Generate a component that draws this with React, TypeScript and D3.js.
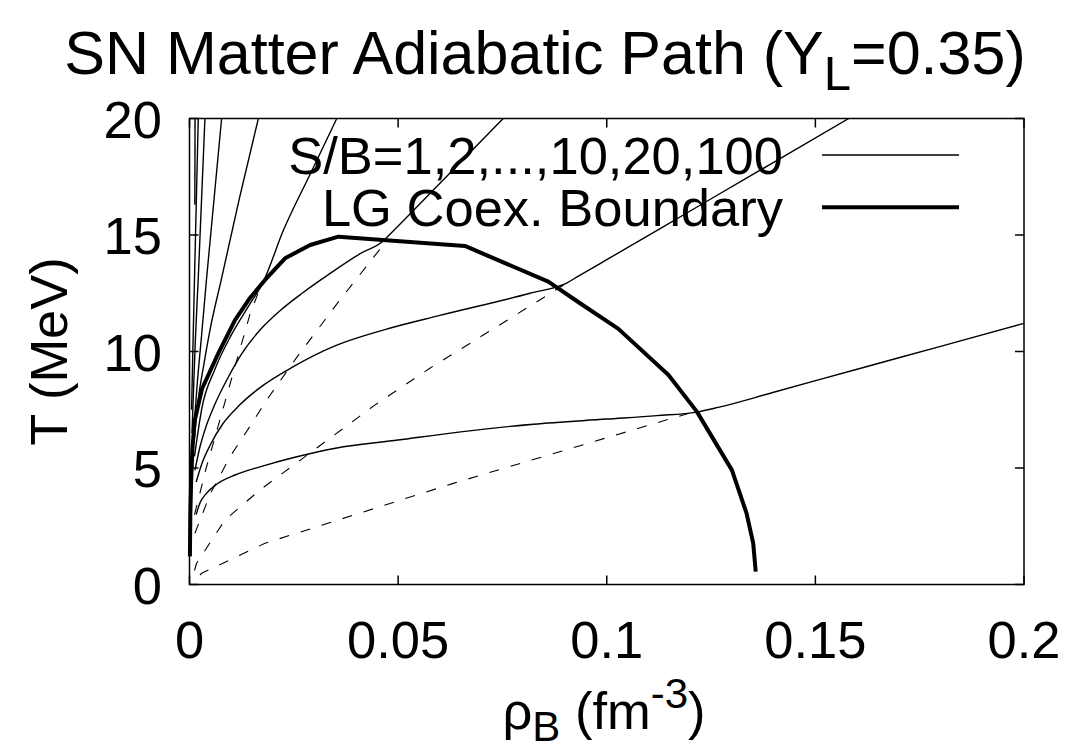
import React from 'react';
import * as d3 from 'd3';

type Pt = [number, number];

// Axis ticks
const xTicks = [0, 0.05, 0.1, 0.15, 0.2];
const xTickLabels = ['0', '0.05', '0.1', '0.15', '0.2'];
const yTicks = [0, 5, 10, 15, 20];
const yTickLabels = ['0', '5', '10', '15', '20'];

// Adiabats (rho_B [fm^-3], T [MeV]) for S/B = 1 ... 9
const adiabatSB1: Pt[] = [
  [0.0016, 3.0], [0.0025, 3.5], [0.004, 3.9], [0.0065, 4.3], [0.0109, 4.7], [0.0169, 5.05],
  [0.025, 5.45], [0.035, 5.85], [0.05, 6.2], [0.065, 6.55], [0.0824, 6.88], [0.1, 7.1],
  [0.112, 7.25], [0.1216, 7.4], [0.1267, 7.6], [0.14, 8.25], [0.16, 9.24], [0.18, 10.22],
  [0.2, 11.21],
];
const adiabatSB2: Pt[] = [
  [0.0016, 4.4], [0.003, 5.2], [0.005, 6.0], [0.008, 6.9], [0.012, 7.7], [0.0169, 8.45],
  [0.0249, 9.35], [0.035, 10.25], [0.047, 10.95], [0.06, 11.55], [0.0816, 12.5], [0.0905, 12.95],
  [0.093, 13.21], [0.1, 13.94], [0.12, 16.03], [0.14, 18.12], [0.158, 20.0],
];
const adiabatSB3: Pt[] = [
  [0.0013, 4.9], [0.0025, 5.9], [0.004, 6.8], [0.006, 7.7], [0.009, 8.8], [0.0125, 9.9],
  [0.0169, 10.92], [0.0217, 11.75], [0.027, 12.5], [0.0329, 13.25], [0.0409, 14.2],
  [0.0465, 14.75], [0.048, 15.02], [0.055, 16.3], [0.065, 18.13], [0.0752, 20.0],
];
const adiabatSB4: Pt[] = [
  [0.0012, 5.5], [0.003, 7.6], [0.006, 9.2], [0.01, 10.7], [0.014, 11.9], [0.0177, 13.0],
  [0.0225, 15.2], [0.029, 17.64], [0.0353, 20.0],
];
const adiabatSB5: Pt[] = [
  [0.0012, 6.3], [0.002, 7.8], [0.0035, 9.5], [0.005, 11.0], [0.0077, 13.15], [0.012, 16.6],
  [0.0165, 20.0],
];
const adiabatSB6: Pt[] = [
  [0.0011, 6.8], [0.0018, 8.5], [0.0028, 10.5], [0.0041, 13.15], [0.0077, 20.0],
];
const adiabatSB7: Pt[] = [
  [0.0006, 6.5], [0.0009, 8.0], [0.0014, 10.5], [0.0021, 13.15], [0.0037, 20.0],
];
const adiabatSB8: Pt[] = [
  [0.0005, 7.5], [0.0008, 10.0], [0.0012, 13.15], [0.0021, 20.0],
];
const adiabatSB9: Pt[] = [
  [0.00128, 16.3], [0.00133, 20.0],
];
const adiabats: Pt[][] = [
  adiabatSB1, adiabatSB2, adiabatSB3, adiabatSB4, adiabatSB5,
  adiabatSB6, adiabatSB7, adiabatSB8, adiabatSB9,
];

// Adiabats through the coexistence region (Maxwell construction)
const mixedSB1: Pt[] = [
  [0.0025, 0.4], [0.0029, 0.48], [0.0181, 1.77], [0.0632, 4.34], [0.1216, 7.45],
];
const mixedSB2: Pt[] = [
  [0.0012, 0.6], [0.0017, 0.91], [0.0085, 2.77], [0.0169, 4.06], [0.0444, 7.7],
  [0.0576, 9.28], [0.0824, 12.04], [0.0905, 12.95],
];
const mixedSB3: Pt[] = [
  [0.0013, 2.2], [0.005, 3.9], [0.0097, 5.48], [0.0149, 6.9], [0.0185, 7.92],
  [0.0257, 9.75], [0.036, 12.2], [0.047, 14.7],
];
const mixedSB4: Pt[] = [
  [0.0012, 3.0], [0.004, 5.0], [0.0075, 7.2], [0.0109, 9.35], [0.0145, 11.6], [0.0175, 13.0],
];
const mixedPaths: Pt[][] = [mixedSB1, mixedSB2, mixedSB3, mixedSB4];

// Liquid-gas coexistence boundary
const coexBoundary: Pt[] = [
  [0.0001, 1.2], [0.0002, 3.0], [0.0004, 4.5], [0.0007, 5.8], [0.0012, 7.0], [0.003, 8.4],
  [0.0069, 9.92], [0.0109, 11.35], [0.0145, 12.3], [0.0181, 13.07], [0.0229, 14.0],
  [0.0289, 14.57], [0.0357, 14.93], [0.066, 14.53], [0.086, 13.0], [0.0936, 12.07],
  [0.1028, 10.97], [0.1148, 8.99], [0.1216, 7.42], [0.13, 4.91], [0.1335, 3.06],
  [0.1351, 1.77], [0.1357, 0.55],
];

const legendLabels = ['S/B=1,2,...,10,20,100', 'LG Coex. Boundary'];

const W = 1065;
const H = 752;
const M = { left: 189.5, right: 1024, top: 118.5, bottom: 584.5 };
const FONT = '"Liberation Sans", Arial, Helvetica, sans-serif';
const TICK = 9;

export default function App() {
  const x = d3.scaleLinear().domain([0, 0.2]).range([M.left, M.right]);
  const y = d3.scaleLinear().domain([0, 20]).range([M.bottom, M.top]);

  const smooth = d3
    .line<Pt>()
    .x((d) => x(d[0]))
    .y((d) => y(d[1]))
    .curve(d3.curveMonotoneX);
  const straight = d3
    .line<Pt>()
    .x((d) => x(d[0]))
    .y((d) => y(d[1]));

  const fs = 52.5;

  return (
    <svg
      width={W}
      height={H}
      viewBox={`0 0 ${W} ${H}`}
      style={{ position: 'absolute', left: 0, top: 0, background: '#fff' }}
      fontFamily={FONT}
    >
      <defs>
        <clipPath id="plotArea">
          <rect x={M.left} y={M.top} width={M.right - M.left} height={M.bottom - M.top} />
        </clipPath>
      </defs>
      <rect x={0} y={0} width={W} height={H} fill="#fff" />

      {/* Title */}
      <text x={545} y={74} fontSize={61} textAnchor="middle" fill="#000">
        SN Matter Adiabatic Path (Y
        <tspan fontSize={49} dy={16}>L</tspan>
        <tspan dy={-16}>=0.35)</tspan>
      </text>

      <g clipPath="url(#plotArea)" fill="none" stroke="#000">
        {mixedPaths.map((p, i) => (
          <path key={`m${i}`} d={straight(p) ?? ''} strokeWidth={1.1} strokeDasharray="10,12" />
        ))}
        {adiabats.map((p, i) => (
          <path key={`a${i}`} d={smooth(p) ?? ''} strokeWidth={1.4} />
        ))}
      </g>
      <path
        d={straight(coexBoundary) ?? ''}
        fill="none"
        stroke="#000"
        strokeWidth={4}
        strokeLinejoin="round"
      />

      {/* Frame and mirrored inward ticks */}
      <g stroke="#000" strokeWidth={1.5} fill="none">
        <rect x={M.left} y={M.top} width={M.right - M.left} height={M.bottom - M.top} />
        {xTicks.map((t) => (
          <g key={`xt${t}`}>
            <line x1={x(t)} x2={x(t)} y1={M.bottom} y2={M.bottom - TICK} />
            <line x1={x(t)} x2={x(t)} y1={M.top} y2={M.top + TICK} />
          </g>
        ))}
        {yTicks.map((t) => (
          <g key={`yt${t}`}>
            <line x1={M.left} x2={M.left + TICK} y1={y(t)} y2={y(t)} />
            <line x1={M.right} x2={M.right - TICK} y1={y(t)} y2={y(t)} />
          </g>
        ))}
      </g>

      {/* Tick labels */}
      <g fontSize={fs} fill="#000">
        {xTicks.map((t, i) => (
          <text key={`xl${t}`} x={x(t)} y={658} textAnchor="middle">
            {xTickLabels[i]}
          </text>
        ))}
        {yTicks.map((t, i) => (
          <text key={`yl${t}`} x={162} y={y(t) + 19} textAnchor="end">
            {yTickLabels[i]}
          </text>
        ))}
      </g>

      {/* Axis titles */}
      <text x={604} y={729} fontSize={fs} textAnchor="middle" fill="#000">
        ρ<tspan fontSize={42} dy={12}>B</tspan>
        <tspan dy={-12}> (fm</tspan>
        <tspan fontSize={42} dy={-21}>-3</tspan>
        <tspan dy={21}>)</tspan>
      </text>
      <text
        transform={`translate(67, ${(M.top + M.bottom) / 2}) rotate(-90)`}
        fontSize={fs}
        textAnchor="middle"
        fill="#000"
      >
        T (MeV)
      </text>

      {/* Legend */}
      <g fontSize={fs} fill="#000">
        <text x={783} y={174} textAnchor="end">{legendLabels[0]}</text>
        <text x={783} y={226} textAnchor="end">{legendLabels[1]}</text>
      </g>
      <line x1={822} x2={959} y1={155} y2={155} stroke="#000" strokeWidth={1.4} />
      <line x1={822} x2={959} y1={207.3} y2={207.3} stroke="#000" strokeWidth={4} />
    </svg>
  );
}
